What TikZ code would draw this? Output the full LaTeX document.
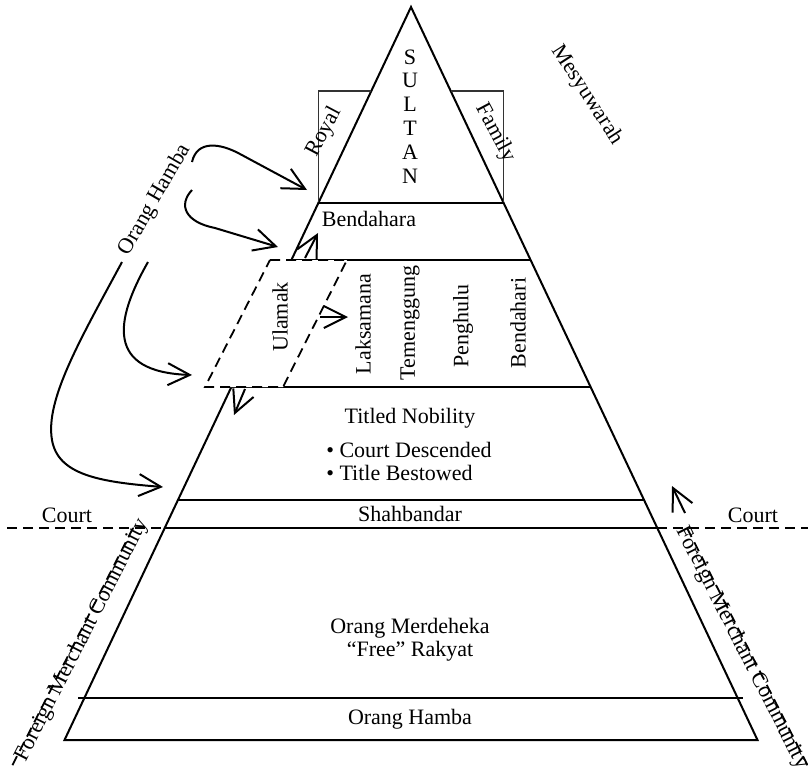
\documentclass[tikz,border=0pt]{standalone}
\usepackage{fontspec}
\setmainfont{Liberation Serif}
\usetikzlibrary{arrows.meta}
\tikzset{
    myline/.style={line width=1pt},
    mythin/.style={line width=0.6pt, black!80},
    mydash/.style={line width=0.9pt, dash pattern=on 5pt off 3pt},
    myarrow/.style={-{Straight Barb[length=11pt, width=11pt]}, line width=1pt},
    mylabel/.style={inner sep=0pt, font=\fontsize{11}{11.5}\selectfont}
}
\begin{document}
\begin{tikzpicture}[x=0.5pt, y=-0.5pt]
\useasboundingbox (0,0) rectangle (808,766);

% pyramid
\coordinate (apex) at (411,7);
\coordinate (bl) at (64.5,740);
\coordinate (br) at (757.5,740);
\draw[myline] (apex) -- (bl) -- (br) -- cycle;

% royal family box
\draw[mythin] (371.3,91) -- (318.3,91) -- (318.3,203);
\draw[mythin] (450.7,91) -- (503.7,91) -- (503.7,203);

% tiers
\draw[myline] (318.3,203) -- (503.7,203);
\draw[myline] (291.4,260) -- (530.6,260);
\draw[myline] (231.4,387) -- (590.6,387);
\draw[myline] (178,500) -- (644,500);
\draw[myline] (164.7,528) -- (657.3,528);
\draw[myline] (78,698) -- (743,698);

% court line and merchant community
\draw[mydash] (7,528) -- (164.7,528);
\draw[mydash] (657.3,528) -- (808,528);
\draw[mydash] (133,528) -- (12,766);
\draw[mydash] (687,528) -- (808,766);

% ulamak
\draw[mydash, fill=white] (270,260) -- (347,260) -- (283,387) -- (205,387) -- cycle;

% labels
\foreach \ch [count=\i] in {S,U,L,T,A,N}
    \node[mylabel] (sultan\i) at (410,{57+23.8*(\i-1)}) {\ch};
\node[mylabel, rotate=62] (royal) at (324,132) {Royal};
\node[mylabel, rotate=-62] (family) at (495,133) {Family};
\node[mylabel, rotate=-57] (mesyuwarah) at (587,95) {Mesyuwarah};
\node[mylabel, rotate=60] (hamba) at (155,200) {Orang Hamba};
\node[mylabel] (bendahara) at (369,219) {Bendahara};
\node[mylabel, rotate=90] (ulamak) at (280,317) {Ulamak};
\node[mylabel, rotate=90] (laksamana) at (363,324) {Laksamana};
\node[mylabel, rotate=90] (temenggung) at (410,323) {Temenggung};
\node[mylabel, rotate=90] (penghulu) at (463,326) {Penghulu};
\node[mylabel, rotate=90] (bendahari) at (518,323) {Bendahari};
\node[mylabel] (nobility) at (410,418) {Titled Nobility};
\node[mylabel, align=left] (titles) at (409,461) {\textbullet{} Court Descended\\\textbullet{} Title Bestowed};
\node[mylabel] (shahbandar) at (410,514) {Shahbandar};
\node[mylabel] (courtl) at (67,515) {Court};
\node[mylabel] (courtr) at (753,515) {Court};
\node[mylabel, align=center] (rakyat) at (410,640) {Orang Merdeheka\\“Free” Rakyat};
\node[mylabel] (hambalow) at (410,719) {Orang Hamba};
\node[mylabel, rotate=63] (merchantl) at (82,640) {Foreign Merchant Community};
\node[mylabel, rotate=-63] (merchantr) at (742,648) {Foreign Merchant Community};

% arrow ends
\coordinate (h1s) at (192,162);
\coordinate (h1e) at (307,190);
\coordinate (h2s) at (192,190);
\coordinate (h2e) at (278,247);
\coordinate (h3s) at (148,262);
\coordinate (h3e) at (192,375);
\coordinate (h4s) at (122,262);
\coordinate (h4e) at (163,487);
\coordinate (u1s) at (305,258);
\coordinate (u1e) at (318,233);
\coordinate (u2s) at (320,317);
\coordinate (u2e) at (348,317);
\coordinate (u3s) at (245,389);
\coordinate (u3e) at (234,415);
\coordinate (f1s) at (685,513);
\coordinate (f1e) at (672,486);

% arrows
\draw[myarrow] (h1s) .. controls (197,140) and (220,143) .. (240,154) -- (h1e);
\draw[myarrow] (h2s) .. controls (178,205) and (185,222) .. (215,228) -- (h2e);
\draw[myarrow] (h3s) .. controls (115,320) and (105,372) .. (h3e);
\draw[myarrow] (h4s) .. controls (80,340) and (45,400) .. (52,440) .. controls (58,475) and (100,482) .. (h4e);
\draw[myarrow] (u1s) -- (u1e);
\draw[myarrow] (u2s) -- (u2e);
\draw[myarrow] (u3s) -- (u3e);
\draw[myarrow] (f1s) -- (f1e);
\end{tikzpicture}
\end{document}
